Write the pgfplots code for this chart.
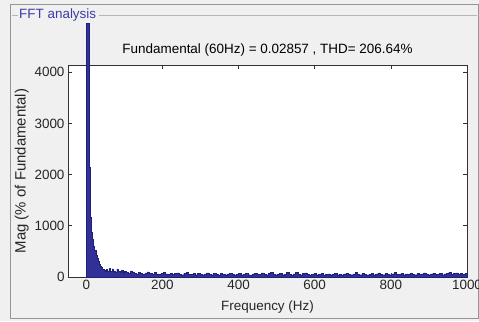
\documentclass[border=0pt]{standalone}
\usepackage{pgfplots}
\pgfplotsset{compat=1.18}
\usepackage{fontspec}
\setmainfont{Liberation Sans}
\definecolor{barfill}{RGB}{48,48,150}
\definecolor{baredge}{RGB}{32,32,120}
\definecolor{panel}{RGB}{240,240,240}
\definecolor{frameline}{RGB}{150,150,150}
\definecolor{titleblue}{RGB}{60,60,170}
\begin{document}
\begin{tikzpicture}[x=1bp,y=1bp]
\fill[panel] (0,0) rectangle (479,321);
\draw[frameline, line width=1bp] (10,3) rectangle (478,316);
\draw[frameline!70, line width=0.6bp] (12,306) -- (18,306);
\draw[frameline!70, line width=0.6bp] (99,306) -- (477,306);
\node[anchor=west, inner sep=0pt, text=titleblue, font=\fontsize{13.5}{15}\selectfont] at (19,306) {FFT analysis};
\begin{axis}[
  at={(68bp,44bp)}, anchor=south west,
  scale only axis, width=399bp, height=212bp,
  xmin=-48, xmax=1000, ymin=0, ymax=4140,
  clip=false,
  axis background/.style={fill=white},
  axis line style={black!80, line width=0.6bp},
  tick style={black!80, line width=0.6bp},
  major tick length=4bp,
  tick align=inside,
  xtick={0,200,400,600,800,1000},
  ytick={0,1000,2000,3000,4000},
  /pgf/number format/assume math mode=true,
  /pgf/number format/set thousands separator={},
  ticklabel style={font=\fontsize{13.5}{15}\selectfont, text=black!85},
  xlabel={Frequency (Hz)}, ylabel={Mag (\% of Fundamental)},
  xlabel style={font=\fontsize{13.5}{15}\selectfont, text=black!85, yshift=-4bp},
  ylabel style={font=\fontsize{15}{17}\selectfont, text=black!85, yshift=-1bp},
  title={Fundamental (60Hz) = 0.02857 , THD= 206.64\%},
  title style={font=\fontsize{13.5}{15}\selectfont, yshift=-1bp},
]
\addplot[const plot, fill=barfill, draw=baredge, line width=0.4bp] coordinates {
(0,4960) (7,2150) (10,1170) (13,880) (16,740) (19,610) (22,520) (25,430)
(28,360) (31,300) (34,250) (37,210) (40,185) (43,150) (46,130) (49,115)
(52,150) (56,120) (60,175) (64,110) (68,160) (72,120) (76,95) (80,150)
(84,110) (88,90) (92,130) (96,80) (100,110) (105,95) (110,70) (115,120)
(120,100) (125,75) (130,60) (136,95) (142,70) (148,55) (154,80) (160,100)
(166,65) (172,55) (178,85) (184,60) (190,50) (196,70) (202,95) (208,60)
(214,55) (220,75) (226,50) (232,65) (238,80) (244,55) (250,45) (256,70)
(262,90) (268,55) (274,50) (280,65) (286,45) (292,75) (298,55) (304,45)
(310,60) (316,80) (322,50) (328,45) (334,65) (340,55) (346,40) (352,70)
(358,50) (364,45) (370,60) (376,75) (382,50) (388,40) (394,55) (400,65)
(406,45) (412,50) (418,70) (424,45) (430,40) (436,60) (442,75) (448,50)
(454,55) (460,80) (466,50) (472,45) (478,65) (484,90) (490,55) (496,45)
(502,60) (508,75) (514,45) (520,55) (526,85) (532,50) (538,40) (544,60)
(550,90) (556,55) (562,45) (568,65) (574,80) (580,50) (586,40) (592,55)
(598,70) (604,45) (610,50) (616,65) (622,40) (628,55) (634,60) (640,45)
(646,50) (652,70) (658,45) (664,55) (670,40) (676,60) (682,75) (688,50)
(694,45) (700,60) (706,85) (712,55) (718,45) (724,65) (730,50) (736,40)
(742,55) (748,70) (754,45) (760,60) (766,80) (772,50) (778,45) (784,65)
(790,55) (796,45) (802,60) (808,85) (814,50) (820,55) (826,70) (832,45)
(838,60) (844,50) (850,75) (856,55) (862,45) (868,65) (874,50) (880,60)
(886,80) (892,55) (898,45) (904,60) (910,70) (916,50) (922,55) (928,65)
(934,45) (940,60) (946,75) (952,90) (958,55) (964,65) (970,80) (976,60)
(982,70) (988,55) (994,65) (1000,0)
} \closedcycle;
\end{axis}
\pgfresetboundingbox
\path[use as bounding box] (0,0) rectangle (479,321);
\end{tikzpicture}
\end{document}
